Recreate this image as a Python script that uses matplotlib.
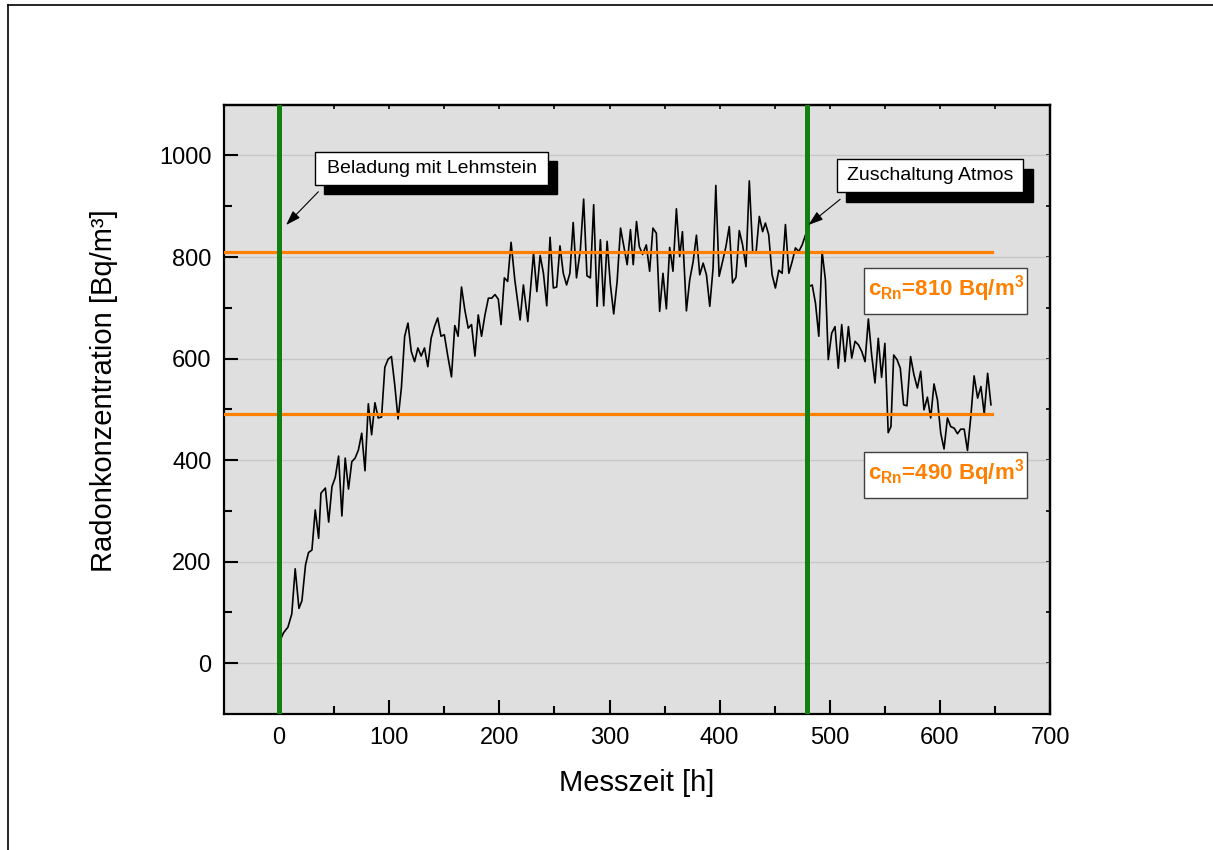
import numpy as np
import matplotlib
matplotlib.use("Agg")
import matplotlib.pyplot as plt
from matplotlib.patches import Rectangle
from matplotlib.lines import Line2D

plt.rcParams['font.family'] = ['Liberation Sans', 'DejaVu Sans']
plt.rcParams['mathtext.fontset'] = 'custom'
plt.rcParams['mathtext.rm'] = 'Liberation Sans:bold'
plt.rcParams['mathtext.it'] = 'Liberation Sans:bold'
plt.rcParams['mathtext.bf'] = 'Liberation Sans:bold'

# Messzeit [h] und Radonkonzentration [Bq/m3]
hours = [0, 4, 8, 11.5, 14.6, 18, 20.7, 24, 26.7, 29.8, 32.8, 35.9, 38, 42, 45, 48, 51, 54,
         57, 60, 63, 66, 69, 72, 75, 78, 81, 84, 87, 90, 93, 96, 99, 102, 105, 108,
         111, 114, 117, 120, 123, 126, 129, 132, 135, 138, 141, 144, 147, 150, 153, 156.5,
         159.5, 162.5, 165.6, 168.6, 171.7, 174.7, 177.8, 180.8, 183.8, 186.9, 190, 193, 196,
         199, 201.5, 204.5, 207.5, 210.6, 214,
         218.8, 221.8, 225.8, 231, 234, 237, 240, 243, 246, 249, 252, 255, 258, 261, 264,
         267, 270, 273.5, 276.5, 279.5, 282.6, 285.6, 288.7, 291.7, 294.7, 297.8, 300.8,
         303.8, 306.9, 310, 313, 316, 319, 321.5, 324.5,
         327, 330, 333.4, 336.4, 339.4, 342.5, 345.5, 348.5, 351.6, 354.6, 357.6, 360.7,
         363.7, 366.2, 369.8, 372.8, 375.9, 378.9, 381.9, 385, 388, 391, 394, 396.5, 399.5,
         402.6, 405.7, 408.7, 411.7, 414.8, 417.8, 420.8, 423.9, 426.9, 430, 433,
         436, 439, 441.5, 444.5, 447.6, 450.6, 453.7, 456.7, 459.7, 462.8, 465.8, 468.8,
         471.9, 474.9, 478, 481, 484, 487, 490, 493, 496, 498.6, 501.7, 504.7, 507.7, 510.8,
         513.8, 516.9, 519.9, 522.9, 526, 529, 532, 535, 538, 541,
         544, 547, 550, 553, 555.5, 558, 561, 564, 567, 570, 573.3, 576.4, 579.5, 582.5,
         585.5, 588.6, 591.6, 594.6, 597.7, 600.7, 603.7, 606.8, 609.8, 612.9, 615.9, 618.9,
         622, 625, 628, 631, 634.2, 637.2, 640.2, 643.3, 646.3]
radon = [40, 60, 71, 97, 186, 108, 123, 194, 218, 223, 302, 246, 335, 345, 278, 348, 366, 408,
         290, 404, 343, 397, 404, 420, 453, 379, 511, 450, 513, 483, 485, 583, 599, 604, 548, 481,
         542, 644, 670, 614, 594, 621, 605, 621, 584, 640, 663, 680, 644, 647, 607, 564,
         665, 644, 741, 696, 660, 667, 605, 686, 644, 686, 719, 719, 726,
         717, 667, 759, 752, 829, 755,
         676, 745, 673, 808, 732, 803, 768, 704, 839, 739, 741, 822, 768, 745, 768,
         868, 759, 814, 914, 763, 759, 903, 703, 834, 704, 831, 745,
         688, 752, 857, 821, 785, 854, 785, 870,
         821, 805, 824, 772, 857, 847, 693, 768, 698, 819, 772, 895,
         801, 850, 694, 755, 791, 843, 765, 788, 765, 703, 778, 941, 762,
         791, 821, 860, 749, 760, 852, 824, 781, 950, 810, 808,
         880, 850, 867, 844, 765, 739, 774, 768, 864, 768, 791, 818,
         811, 824, 844, 742, 745, 709, 644, 811, 755, 598, 650, 663, 581, 667,
         594, 663, 601, 634, 627, 614, 594, 678, 607, 552,
         640, 563, 630, 454, 466, 607, 598, 581, 509, 507, 604, 568, 542, 575,
         499, 524, 483, 550, 519, 453, 422, 483, 466, 463, 452, 461,
         461, 419, 485, 566, 522, 545, 491, 571, 509]

event_hours = [0, 479]                    # Beladung, Zuschaltung Atmos
event_texts = ['Beladung mit Lehmstein', 'Zuschaltung Atmos']
levels = [810, 490]                       # mittlere Konzentration
level_end = 647

fig = plt.figure(figsize=(12.13, 8.5), dpi=100)
ax = fig.add_axes([0.1847, 0.16, 0.681, 0.7168])
ax.set_facecolor('#e0dfe0')

ax.plot(hours, radon, color='black', lw=1.2, zorder=3)
for lv in levels:
    ax.plot([-50, level_end], [lv, lv], color='#ff8000', lw=2.3, zorder=4)
for eh in event_hours:
    ax.axvline(eh, color='#118011', lw=3.6, zorder=5)

ax.set_xlim(-50, 700)
ax.set_ylim(-100, 1100)
ax.set_xticks(np.arange(0, 701, 100))
ax.set_xticks(np.arange(50, 700, 100), minor=True)
ax.set_yticks(np.arange(0, 1001, 200))
ax.set_yticks(np.arange(100, 1001, 200), minor=True)
ax.yaxis.grid(True, which='major', color='#c6c6c6', lw=0.9)
ax.set_axisbelow(True)
ax.tick_params(which='major', direction='in', length=10, width=1.5, labelsize=17, pad=9)
ax.tick_params(which='minor', direction='in', length=6, width=1.5)
for s in ax.spines.values():
    s.set_linewidth(1.6)

# kurze Striche oben und rechts
top = ax.secondary_xaxis('top')
top.set_xticks(np.arange(-50, 701, 50))
top.tick_params(direction='in', length=3, width=1.2, labeltop=False)
top.spines['top'].set_linewidth(1.6)
right = ax.secondary_yaxis('right')
right.set_yticks(np.arange(-100, 1101, 100))
right.tick_params(direction='in', length=3, width=1.2, labelright=False)
right.spines['right'].set_linewidth(1.6)

fig.text(637 / 1213, 1 - 783 / 850, 'Messzeit [h]', fontsize=21, ha='center', va='center')
fig.text(104 / 1213, 1 - 391 / 850, 'Radonkonzentration [Bq/m³]', fontsize=21,
         rotation=90, ha='center', va='center')

# Textkaesten mit Schatten und Pfeil
boxes = [(0.1102, 0.8682, 0.2821, 0.0542, 0.0109, -0.0140),
         (0.7418, 0.8572, 0.2259, 0.0532, 0.0115, -0.0164)]
arrows = [((0.0751, 0.8026), (0.1142, 0.8572)),
          ((0.7074, 0.8026), (0.7458, 0.8447))]
for (bx, by, bw, bh, dx, dy), txt, (tip, tail) in zip(boxes, event_texts, arrows):
    ax.add_patch(Rectangle((bx + dx, by + dy), bw, bh, transform=ax.transAxes,
                           facecolor='black', edgecolor='black', zorder=6, clip_on=False))
    ax.add_patch(Rectangle((bx, by), bw, bh, transform=ax.transAxes,
                           facecolor='white', edgecolor='black', lw=1.0, zorder=7, clip_on=False))
    ax.text(bx + bw / 2, by + bh / 2, txt, transform=ax.transAxes, fontsize=14,
            ha='center', va='center', zorder=8)
    ax.annotate('', xy=tip, xytext=tail, xycoords='axes fraction', textcoords='axes fraction',
                arrowprops=dict(arrowstyle='-|>,head_length=0.6,head_width=0.2',
                                color='black', lw=0.8, mutation_scale=15,
                                shrinkA=0, shrinkB=0),
                zorder=8)

# Beschriftung der Mittelwerte
label_boxes = [(0.7752, 0.6565), (0.7752, 0.355)]
for lv, (bx, by) in zip(levels, label_boxes):
    ax.add_patch(Rectangle((bx, by), 0.1966, 0.0752, transform=ax.transAxes,
                           facecolor='white', edgecolor='#404040', lw=1.0, zorder=7, clip_on=False))
    ax.text(bx + 0.0983, by + 0.0376 + 0.004, r'c$\mathrm{_{Rn}}$=%d Bq/m$\mathrm{^{3}}$' % lv,
            transform=ax.transAxes, fontsize=16, fontweight='bold', color='#ff8000',
            ha='center', va='center', zorder=8)

# Rahmen
fig.add_artist(Line2D([8 / 1213, 1.01], [1 - 5 / 850, 1 - 5 / 850], color='black', lw=1.2,
                      transform=fig.transFigure))
fig.add_artist(Line2D([8 / 1213, 8 / 1213], [-0.01, 1 - 5 / 850], color='black', lw=1.2,
                      transform=fig.transFigure))

fig.savefig('out.png', dpi=100, facecolor='white')
